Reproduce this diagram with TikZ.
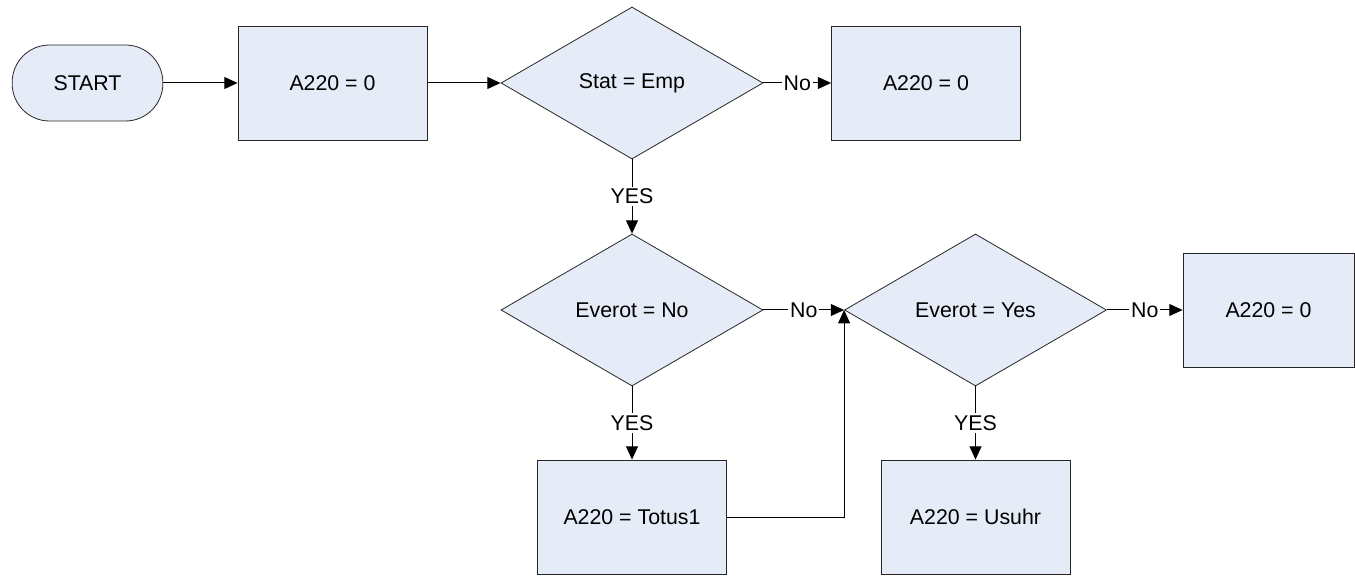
\documentclass[tikz,border=0pt]{standalone}
\usepackage{fontspec}
\setmainfont{Liberation Sans}
\usetikzlibrary{shapes.geometric, arrows.meta}
\definecolor{boxFill}{HTML}{E6ECF7}

\begin{document}
\begin{tikzpicture}[
    x=0.75pt, y=0.75pt,
    font=\fontsize{16}{18}\selectfont,
    startStop/.style={rectangle, rounded corners=28pt, minimum width=113pt, minimum height=57pt, text centered, draw=black!85, line width=0.6pt, fill=boxFill},
    process/.style={rectangle, minimum width=141.75pt, minimum height=85.5pt, text centered, draw=black!85, line width=0.6pt, fill=boxFill},
    decision/.style={diamond, aspect=1.7, inner sep=0pt, minimum width=196.5pt, minimum height=114pt, text centered, draw=black!85, line width=0.6pt, fill=boxFill},
    arrow/.style={line width=0.75pt, -{Triangle[length=10pt,width=9pt]}},
    answer/.style={fill=white, inner sep=1.5pt}
]
\useasboundingbox (0,0) rectangle (1355,575);

% Top row
\node[startStop] (start) at (87.5,492) {START};
\node[process] (proc1) at (332.5,492) {A220 = 0};
\node[decision] (dec1) at (632,492) {Stat = Emp};
\node[process] (proc2) at (926,492) {A220 = 0};

% Middle row
\node[decision] (dec2) at (632,265) {Everot = No};
\node[decision] (dec3) at (975.5,265) {Everot = Yes};
\node[process, minimum width=128.25pt] (proc3) at (1268.5,265) {A220 = 0};

% Bottom row
\node[process] (proc4) at (632,58) {A220 = Totus1};
\node[process] (proc5) at (975.5,58) {A220 = Usuhr};

% Flow
\draw[arrow] (start.east) -- (proc1.west);
\draw[arrow] (proc1.east) -- (dec1.west);
\draw[arrow] (dec1.east) -- node[answer] {No} (proc2.west);
\draw[arrow] (dec1.south) -- node[answer] {YES} (dec2.north);
\draw[arrow] (dec2.east) -- node[answer] {No} (dec3.west);
\draw[arrow] (dec2.south) -- node[answer] {YES} (proc4.north);
\draw[arrow] (proc4.east) -| (dec3.west);
\draw[arrow] (dec3.east) -- node[answer] {No} (proc3.west);
\draw[arrow] (dec3.south) -- node[answer] {YES} (proc5.north);

\end{tikzpicture}
\end{document}
